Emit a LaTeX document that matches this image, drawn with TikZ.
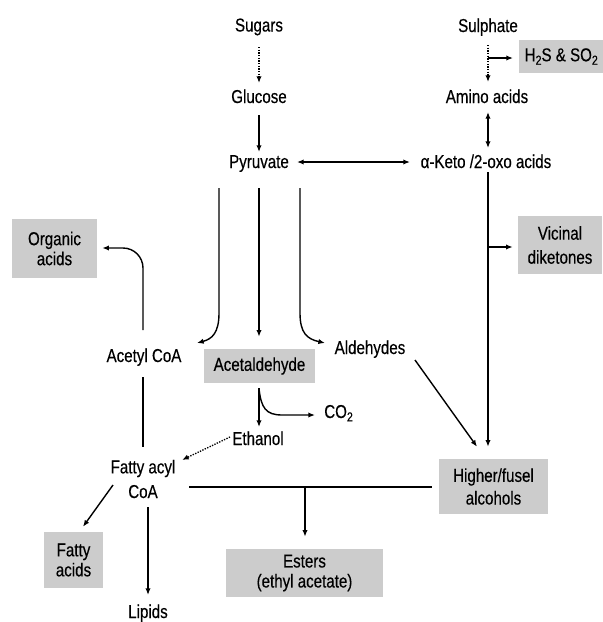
\documentclass[tikz,border=0pt]{standalone}
\usepackage{fontspec}
\setmainfont{Liberation Sans}[FakeStretch=0.81,FakeBold=0.35]
\usetikzlibrary{arrows.meta,calc}
\newcommand\sbs[1]{\raisebox{-0.35ex}{\fontsize{9.8}{10}\selectfont #1}}
\begin{document}
\begin{tikzpicture}[x=0.75pt,y=-0.75pt,
  every node/.style={font=\fontsize{14}{17}\selectfont},
  lbl/.style={inner sep=0pt, text height=10pt, text depth=3pt, anchor=base},
  box/.style={fill=gray!40, draw=none, inner sep=0pt, align=center},
  tip/.style={-{Latex[length=5pt,width=4pt]}},
  arr/.style={line width=1.05pt, tip},
  dblarr/.style={line width=1.05pt, {Latex[length=5pt,width=4pt]}-{Latex[length=5pt,width=4pt]}},
  ln/.style={line width=1.05pt},
  dotarr/.style={line width=1pt, dash pattern=on 1pt off 1pt, tip},
]
\useasboundingbox (0,0) rectangle (603,622);

% text nodes
\node[lbl] (sugars) at (259,31.5) {Sugars};
\node[lbl] (glucose) at (259,103) {Glucose};
\node[lbl] (pyruvate) at (259,168) {Pyruvate};
\node[lbl] (sulphate) at (488,32) {Sulphate};
\node[lbl] (amino) at (487,103) {Amino acids};
\node[lbl] (keto) at (486,168) {α-Keto /2-oxo acids};
\node[lbl] (acetyl) at (144,362) {Acetyl CoA};
\node[lbl] (aldehydes) at (370,354) {Aldehydes};
\node[lbl, anchor=base west] (co2) at (324,418) {CO\sbs{2}};
\node[lbl] (ethanol) at (258,445) {Ethanol};
\node[align=center, inner sep=0pt, font=\fontsize{14}{18.5}\selectfont] (fattyacyl) at (143,479) {Fatty acyl\\CoA};
\node[lbl] (lipids) at (148,618) {Lipids};

% boxes
\node[box, anchor=west, minimum width=63pt, minimum height=24.75pt, inner xsep=3pt] (h2s) at (519,56.5) {H\sbs{2}S \& SO\sbs{2}};
\node[box, minimum width=63pt, minimum height=43.5pt, font=\fontsize{14}{18}\selectfont] (vicinal) at (560,245) {Vicinal\\diketones};
\node[box, minimum width=63.75pt, minimum height=44.25pt, font=\fontsize{14}{15}\selectfont] (organic) at (54.5,248.5) {Organic\\acids};
\node[box, minimum width=83.25pt, minimum height=25.5pt] (acetaldehyde) at (259.5,366) {Acetaldehyde};
\node[box, minimum width=81.75pt, minimum height=41.25pt] (higher) at (493.5,486.5) {Higher/fusel\\alcohols};
\node[box, minimum width=44.25pt, minimum height=42pt, font=\fontsize{14}{15}\selectfont] (fattyacids) at (73.5,560) {Fatty\\acids};
\node[box, minimum width=117.75pt, minimum height=36pt, font=\fontsize{14}{15}\selectfont] (esters) at (304.5,573) {Esters\\(ethyl acetate)};

% upper connectors
\draw[dotarr] ($(sugars.base)+(0,15.5)$) -- ($(glucose.base)+(0,-20)$);
\draw[arr] ($(glucose.base)+(0,12)$) -- ($(pyruvate.base)+(0,-16)$);
\draw[dotarr] ($(sulphate.base)+(0,13)$) -- ($(amino.base)+(1,-21)$);
\coordinate (b1) at ($(sulphate.base)+(0,26)$);
\draw[arr] (b1) -- ($(b1 -| h2s.west)+(-6,0)$);
\draw[dblarr] ($(amino.base)+(1,9)$) -- ($(keto.base)+(2,-20)$);
\draw[dblarr] ($(pyruvate.base)+(38,-6)$) -- ($(keto.base)+(-76,-6)$);
\draw[arr] ($(keto.base)+(2,4)$) -- ($(higher.north)+(-5.5,-12)$);
\coordinate (b2) at ($(keto.base)+(2,79)$);
\draw[arr] (b2) -- ($(b2 -| vicinal.west)+(-5,0)$);
\draw[arr] ($(aldehydes.base)+(45,6)$) -- ($(higher.north)+(-16.5,-12)$);

% pyruvate branches
\draw[arr] ($(pyruvate.base)+(-40,20)$) -- (219,313) .. controls (219,333) and (212,339) .. ($(acetyl.base)+(53,-19)$);
\draw[arr] ($(pyruvate.base)+(0,20)$) -- ($(acetaldehyde.north)+(-0.5,-12)$);
\draw[arr] ($(pyruvate.base)+(41,20)$) -- (300,313) .. controls (300,333) and (307,339) .. ($(aldehydes.base)+(-45,-11)$);

% acetyl CoA
\draw[arr, rounded corners=15pt] ($(acetyl.base)+(-1,-32)$) -- (143,248) -- ($(organic.east)+(5,-0.5)$);
\draw[ln] ($(acetyl.base)+(-1,15)$) -- ($(fattyacyl.center)+(0,-32)$);

% acetaldehyde
\draw[arr] ($(acetaldehyde.south)+(-0.5,5)$) -- ($(ethanol.base)+(1,-18)$);
\draw[arr] ($(acetaldehyde.south)+(-0.5,5)$) .. controls (261,408) and (266,415) .. (282,415) -- ($(co2.base west)+(-9,-3)$);
\draw[dotarr] ($(ethanol.base)+(-28,-8)$) -- ($(fattyacyl.center)+(39,-19)$);

% fatty acyl CoA
\draw[arr] ($(fattyacyl.center)+(-30,6)$) -- ($(fattyacids.north)+(9.5,-5)$);
\draw[arr] ($(fattyacyl.center)+(5,28)$) -- ($(lipids.base)+(0,-23)$);
\draw[ln] ($(fattyacyl.center)+(46,8)$) -- ($(higher.west)+(-7,0.5)$);
\coordinate (b3) at ($(fattyacyl.center)+(162,8)$);
\draw[arr] (b3) -- ($(b3 |- esters.north)+(0,-12)$);
\end{tikzpicture}
\end{document}
